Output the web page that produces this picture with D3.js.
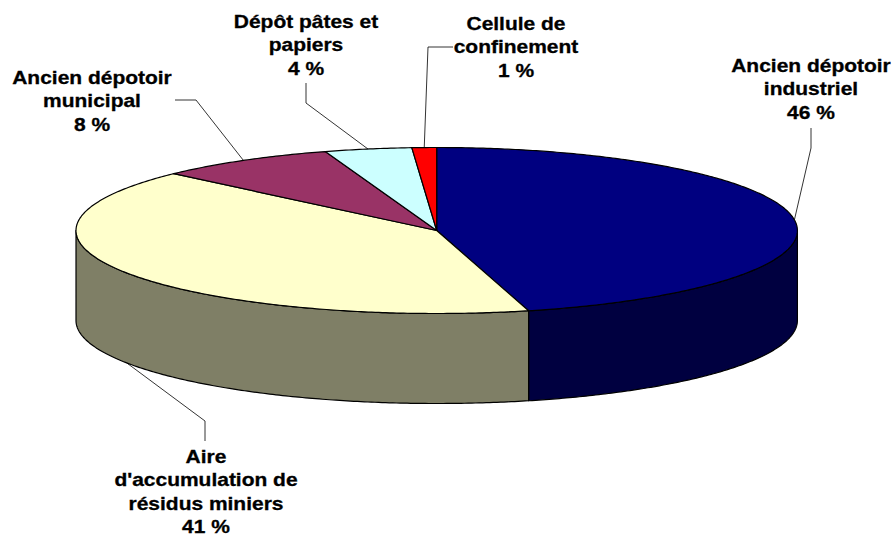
<!DOCTYPE html>
<html><head><meta charset="utf-8">
<script src="https://cdn.jsdelivr.net/npm/d3@7/dist/d3.min.js"></script>
<style>html,body{margin:0;padding:0;background:#fff}svg{display:block}
text{font-family:"Liberation Sans",Arial,sans-serif;font-weight:bold;font-size:18px;fill:#000;stroke:#000;stroke-width:0.3px;text-anchor:middle}</style>
</head><body><svg id="c" width="893" height="538"></svg>
<script>
const categories=["Ancien dépotoir industriel","Aire d'accumulation de résidus miniers","Ancien dépotoir municipal","Dépôt pâtes et papiers","Cellule de confinement"];
const values=[45.9,41.1,8,3.9,1.1];
const labelLines=[["Ancien dépotoir","industriel","46 %"],["Aire","d'accumulation de","résidus miniers","41 %"],["Ancien dépotoir","municipal","8 %"],["Dépôt pâtes et","papiers","4 %"],["Cellule de","confinement","1 %"]];
const topColors=["#000080","#FFFFCC","#993366","#CCFFFF","#FF0000"];
const sideColors=["#000040","#7F7F66","#4D1933","#668080","#800000"];

// layout
const cx=436.7,cy=230.5,rx=360.7,ry=83,depth=90;
const labelPos=[{x:811,y:72},{x:206,y:463},{x:92,y:84},{x:306,y:28},{x:516,y:30}];
const lineH=23.3;
const textStretch=1.165;
// leader elbow + label end, per slice
const leaders=[[[811,148],[811,128]],[[205,421],[205,441]],[[196,100],[175,100]],[[306,103],[306,83]],[[428,47],[453,47]]];

const svg=d3.select("#c");
const arcs=d3.pie().sort(null).value(d=>d)(values);
const sx=d3.scaleLinear().domain([-1,1]).range([cx-rx,cx+rx]);
const sy=d3.scaleLinear().domain([-1,1]).range([cy-ry,cy+ry]);
const pt=(a,dz=0)=>[sx(Math.sin(a)),sy(-Math.cos(a))+dz];
const samples=(a0,a1)=>{const n=Math.max(2,Math.ceil((a1-a0)/0.01));return d3.range(n+1).map(i=>a0+(a1-a0)*i/n);};
const line=d3.line();
const H=Math.PI/2;

// sides (only the front half of the rim is visible)
arcs.forEach((d,i)=>{
  const a0=Math.max(d.startAngle,H),a1=Math.min(d.endAngle,3*H);
  if(a1<=a0)return;
  const top=samples(a0,a1).map(a=>pt(a));
  const bot=samples(a0,a1).reverse().map(a=>pt(a,depth));
  svg.append("path").attr("d",line(top.concat(bot))+"Z").attr("fill",sideColors[i])
    .attr("stroke","#000").attr("stroke-width",1.2).attr("stroke-linejoin","round");
});
// top faces
arcs.forEach((d,i)=>{
  const rim=samples(d.startAngle,d.endAngle).map(a=>pt(a));
  svg.append("path").attr("d",line([[cx,cy]].concat(rim))+"Z").attr("fill",topColors[i])
    .attr("stroke","#000").attr("stroke-width",1.2).attr("stroke-linejoin","round");
});
// leaders
arcs.forEach((d,i)=>{
  const m=(d.startAngle+d.endAngle)/2;
  const front=Math.cos(m)<-0.3&&Math.sin(m)<0;
  const p=pt(m,front?depth:0);
  svg.append("path").attr("d",line([p,...leaders[i]])).attr("fill","none")
    .attr("stroke","#000").attr("stroke-width",0.8);
});
// labels
labelLines.forEach((ls,i)=>{
  const t=svg.append("text").attr("transform",`translate(${labelPos[i].x},${labelPos[i].y}) scale(${textStretch},1)`);
  ls.forEach((s,j)=>t.append("tspan").attr("x",0).attr("y",j*lineH).text(s));
});
</script></body></html>
